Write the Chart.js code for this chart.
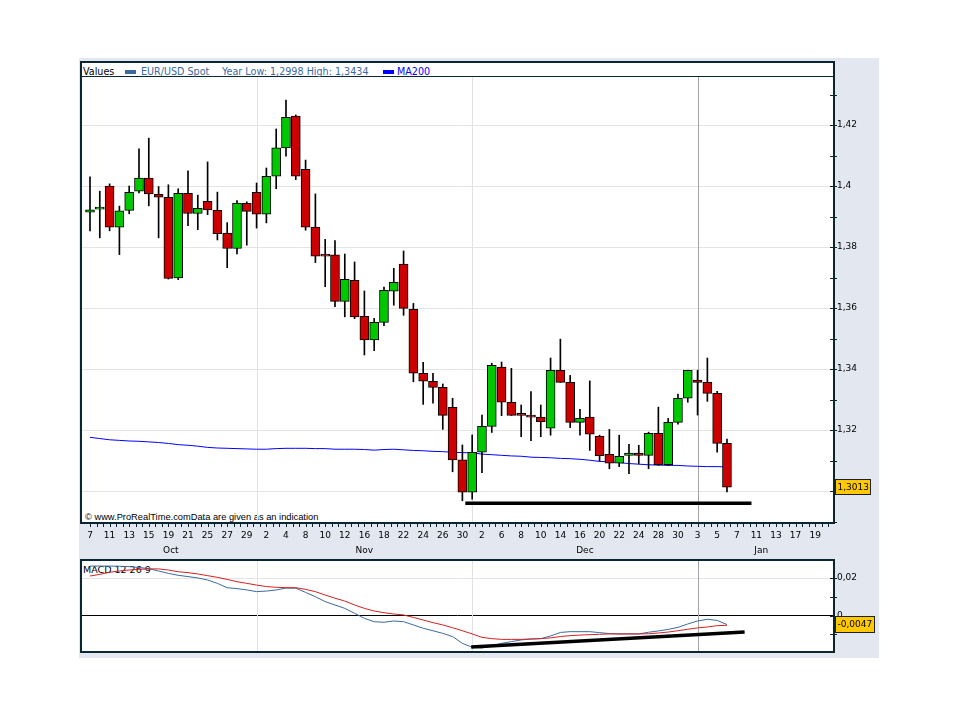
<!DOCTYPE html>
<html lang="en">

<head>
  <meta charset="UTF-8" />
  <title>EUR/USD Spot - MA200 - MACD</title>
  <script src="https://cdn.jsdelivr.net/npm/chart.js"></script>
  <style>
    body { margin: 0; background: #fff; font-family: "DejaVu Sans", sans-serif; }
    #stage { position: relative; width: 960px; height: 720px; overflow: hidden; }
    .backdrop { position: absolute; left: 79px; top: 58px; width: 800px; height: 600px; background: #e3e7ef; }
    .panel { position: absolute; background: #fff; border: 2px solid #0a2633; box-sizing: border-box; }
    .rule { position: absolute; left: 82px; top: 76px; width: 751px; height: 1px; background: #0a2633; }
    .txt { position: absolute; top: 65px; font-size: 9.6px; line-height: 13px; white-space: nowrap; color: #000; }
    .spot { color: #3a6aa0; }
    .ma { color: #0000ff; }
    .swatch { position: absolute; top: 70px; width: 11px; height: 4px; }
    .note { position: absolute; left: 85px; top: 512px; font-family: "Liberation Sans", sans-serif; font-size: 9.3px; line-height: 11px; white-space: nowrap; }
    .macdName { position: absolute; left: 83px; top: 563px; font-size: 9.5px; line-height: 13px; white-space: nowrap; }
    canvas { position: absolute; }
  </style>
</head>

<body>
  <div id="stage">
    <div class="backdrop"></div>
    <div class="panel" style="left:80px;top:61px;width:755px;height:463px"></div>
    <div class="panel" style="left:80px;top:559px;width:755px;height:94px"></div>
    <div class="rule"></div>

    <!-- legende -->
    <div class="txt" style="left:83px">Values</div>
    <div class="swatch" style="left:125px;background:#3a6aa0"></div>
    <div class="txt spot" style="left:141px">EUR/USD Spot</div>
    <div class="txt spot" style="left:222px">Year Low: 1,2998 High: 1,3434</div>
    <div class="swatch" style="left:383px;background:#0000ff"></div>
    <div class="txt ma" style="left:397px">MA200</div>

    <div class="note">© www.ProRealTime.comData are given as an indication</div>
    <div class="macdName">MACD 12 26 9</div>

    <canvas id="priceChart" width="800" height="500" style="left:79px;top:58px"></canvas>
    <canvas id="macdChart" width="800" height="100" style="left:79px;top:558px"></canvas>
  </div>

  <script>
    // axe du temps : un libelle toutes les 2 seances
    const dayLabels = ['7', '11', '13', '15', '19', '21', '25', '27', '29', '2', '4', '8', '10', '12', '16', '18', '22', '24', '26', '30',
      '2', '6', '8', '10', '14', '16', '20', '22', '24', '28', '30', '3', '5', '7', '11', '13', '17', '19'];
    const monthNames = ['Oct', 'Nov', 'Dec', 'Jan'];
    const monthBounds = [-0.5, 17, 39, 62, 75];

    // bougies EUR/USD
    const opens = [1.3914, 1.3924, 1.4000, 1.3865, 1.3920, 1.3983, 1.4026, 1.3973, 1.3963, 1.3699,
      1.3976, 1.3910, 1.3950, 1.3920, 1.3846, 1.3795, 1.3943, 1.3979, 1.3908, 1.4032,
      1.4125, 1.4229, 1.4055, 1.3865, 1.3772, 1.3774, 1.3622, 1.3691, 1.3573, 1.3495,
      1.3553, 1.3655, 1.3744, 1.3596, 1.3386, 1.3360, 1.3340, 1.3274, 1.3102, 1.2996,
      1.3127, 1.3212, 1.3406, 1.3291, 1.3249, 1.3248, 1.3242, 1.3206, 1.3396, 1.3356,
      1.3225, 1.3242, 1.3179, 1.3120, 1.3091, 1.3117, 1.3124, 1.3117, 1.3189, 1.3086,
      1.3225, 1.3304, 1.3364, 1.3356, 1.3320, 1.3156];
    const highs = [1.4030, 1.3983, 1.4007, 1.3934, 1.4000, 1.4122, 1.4157, 1.3998, 1.4004, 1.3991,
      1.4050, 1.3970, 1.4079, 1.3980, 1.3880, 1.3952, 1.3948, 1.4010, 1.4059, 1.4187,
      1.4282, 1.4233, 1.4085, 1.3974, 1.3825, 1.3821, 1.3777, 1.3751, 1.3656, 1.3566,
      1.3669, 1.3730, 1.3787, 1.3615, 1.3422, 1.3386, 1.3351, 1.3304, 1.3151, 1.3184,
      1.3249, 1.3419, 1.3423, 1.3402, 1.3282, 1.3326, 1.3282, 1.3436, 1.3498, 1.3379,
      1.3268, 1.3361, 1.3183, 1.3202, 1.3183, 1.3153, 1.3150, 1.3193, 1.3275, 1.3238,
      1.3318, 1.3396, 1.3396, 1.3436, 1.3327, 1.3170];
    const lows = [1.3853, 1.3830, 1.3853, 1.3775, 1.3909, 1.3977, 1.3935, 1.3830, 1.3695, 1.3693,
      1.3870, 1.3857, 1.3906, 1.3823, 1.3732, 1.3777, 1.3806, 1.3862, 1.3879, 1.3991,
      1.4098, 1.4021, 1.3855, 1.3749, 1.3670, 1.3604, 1.3571, 1.3565, 1.3446, 1.3460,
      1.3542, 1.3609, 1.3576, 1.3358, 1.3284, 1.3288, 1.3202, 1.3063, 1.2968, 1.2973,
      1.3060, 1.3192, 1.3247, 1.3248, 1.3178, 1.3165, 1.3178, 1.3183, 1.3356, 1.3208,
      1.3183, 1.3133, 1.3098, 1.3073, 1.3080, 1.3057, 1.3089, 1.3073, 1.3084, 1.3084,
      1.3219, 1.3291, 1.3249, 1.3294, 1.3127, 1.2997];
    const closes = [1.3922, 1.3925, 1.3865, 1.3919, 1.3979, 1.4026, 1.3974, 1.3963, 1.3697, 1.3976,
      1.3910, 1.3927, 1.3922, 1.3844, 1.3795, 1.3944, 1.3917, 1.3908, 1.4032, 1.4125,
      1.4225, 1.4032, 1.3865, 1.3770, 1.3770, 1.3622, 1.3694, 1.3571, 1.3495, 1.3553,
      1.3658, 1.3684, 1.3599, 1.3386, 1.3360, 1.3340, 1.3248, 1.3102, 1.2996, 1.3127,
      1.3212, 1.3412, 1.3291, 1.3248, 1.3248, 1.3242, 1.3227, 1.3396, 1.3356, 1.3225,
      1.3238, 1.3186, 1.3116, 1.3091, 1.3114, 1.3124, 1.3117, 1.3189, 1.3086, 1.3225,
      1.3304, 1.3396, 1.3356, 1.3320, 1.3156, 1.3013];
    const ma200 = [1.3176, 1.3172, 1.3168, 1.3166, 1.3164, 1.3163, 1.3161, 1.3159, 1.3156, 1.3152,
      1.3150, 1.3147, 1.3143, 1.3141, 1.3140, 1.3139, 1.3138, 1.3137, 1.3137, 1.3139,
      1.3140, 1.3140, 1.3140, 1.3139, 1.3139, 1.3137, 1.3137, 1.3137, 1.3136, 1.3134,
      1.3136, 1.3137, 1.3135, 1.3133, 1.3132, 1.3130, 1.3129, 1.3127, 1.3126, 1.3125,
      1.3121, 1.3119, 1.3117, 1.3115, 1.3114, 1.3111, 1.3110, 1.3109, 1.3107, 1.3106,
      1.3104, 1.3101, 1.3097, 1.3096, 1.3093, 1.3090, 1.3088, 1.3086, 1.3085, 1.3084,
      1.3084, 1.3082, 1.3081, 1.3080, 1.3080, 1.3079];

    // MACD 12 26 9
    const macdLine = [0.0264, 0.0264, 0.0264, 0.0263, 0.0261, 0.0257, 0.0250, 0.0238, 0.0225, 0.0215,
      0.0208, 0.0201, 0.0190, 0.0172, 0.0149, 0.0144, 0.0137, 0.0128, 0.0131, 0.0137,
      0.0147, 0.0146, 0.0124, 0.0101, 0.0075, 0.0057, 0.0039, 0.0013, -0.0014, -0.0032,
      -0.0035, -0.0028, -0.0032, -0.0049, -0.0067, -0.0080, -0.0094, -0.0111, -0.0147, -0.0168,
      -0.0172, -0.0161, -0.0147, -0.0138, -0.0129, -0.0124, -0.0122, -0.0108, -0.0089, -0.0085,
      -0.0085, -0.0085, -0.0090, -0.0095, -0.0097, -0.0097, -0.0097, -0.0088, -0.0081, -0.0073,
      -0.0062, -0.0044, -0.0028, -0.0019, -0.0025, -0.0047];
    const signalLine = [0.0211, 0.0220, 0.0231, 0.0238, 0.0243, 0.0247, 0.0249, 0.0249, 0.0243, 0.0234,
      0.0229, 0.0222, 0.0213, 0.0204, 0.0193, 0.0181, 0.0172, 0.0163, 0.0155, 0.0151,
      0.0149, 0.0149, 0.0140, 0.0128, 0.0110, 0.0093, 0.0078, 0.0057, 0.0039, 0.0025,
      0.0016, 0.0009, 0.0004, -0.0009, -0.0023, -0.0037, -0.0049, -0.0064, -0.0080, -0.0097,
      -0.0115, -0.0122, -0.0126, -0.0126, -0.0126, -0.0124, -0.0122, -0.0118, -0.0111, -0.0106,
      -0.0103, -0.0101, -0.0099, -0.0097, -0.0097, -0.0097, -0.0097, -0.0096, -0.0092, -0.0087,
      -0.0080, -0.0072, -0.0065, -0.0060, -0.0053, -0.0051];

    // graduations
    const priceTicks = [1.29, 1.30, 1.31, 1.32, 1.33, 1.34, 1.35, 1.36, 1.37, 1.38, 1.39, 1.40, 1.41, 1.42, 1.43];
    const priceTickLabels = ['', '1,3', '', '1,32', '', '1,34', '', '1,36', '', '1,38', '', '1,4', '', '1,42', ''];
    const macdTicks = [-0.01, 0, 0.01, 0.02];
    const macdTickLabels = ['', '0', '', '0,02'];

    // lignes tracees a la main
    const supportX = [38.3, 67.5];
    const supportY = [1.2960, 1.2960];
    const trendX = [38.9, 66.8];
    const trendY = [-0.0167, -0.0087];

    const GREEN = '#00c800';
    const RED = '#cc0000';
    const FRAME = '#0a2633';

    Chart.defaults.font.family = '"DejaVu Sans", sans-serif';
    Chart.defaults.font.size = 9;
    Chart.defaults.color = '#000';

    const pts = (xs, ys) => xs.map((x, i) => ({ x, y: ys[i] }));
    const idx = arr => arr.map((v, i) => ({ x: i, y: v }));
    const commaFmt = v => v.toFixed(4).replace('.', ',');

    function fixWidth(scale, w) {
      scale.width = w;
      scale.paddingTop = 0; scale.paddingBottom = 0; scale.paddingLeft = 0; scale.paddingRight = 0;
    }

    function drawMonthLines(chart) {
      const { ctx, chartArea: a, scales: { x } } = chart;
      ctx.save();
      ctx.lineWidth = 1;
      for (let m = 1; m < monthBounds.length - 1; m++) {
        const px = Math.round(x.getPixelForValue(monthBounds[m])) + 0.5;
        ctx.strokeStyle = monthNames[m] === 'Jan' ? '#a4a4a4' : '#e2e2e2';
        ctx.beginPath();
        ctx.moveTo(px, a.top);
        ctx.lineTo(px, a.bottom);
        ctx.stroke();
      }
      ctx.restore();
    }

    function drawYMarks(chart, values) {
      const { ctx, chartArea: a, scales: { y } } = chart;
      ctx.save();
      ctx.strokeStyle = FRAME;
      ctx.lineWidth = 1;
      values.forEach(v => {
        const py = Math.round(y.getPixelForValue(v)) + 0.5;
        ctx.beginPath();
        ctx.moveTo(a.right - 3, py);
        ctx.lineTo(a.right + 4, py);
        ctx.stroke();
      });
      ctx.restore();
    }

    function drawValueBox(chart, value, h) {
      const { ctx, chartArea: a, scales: { y } } = chart;
      const text = commaFmt(value);
      const py = y.getPixelForValue(value);
      ctx.save();
      ctx.font = '9px "DejaVu Sans"';
      const w = Math.round(ctx.measureText(text).width) + 5;
      const left = Math.round(a.right) + 2;
      const top = Math.round(py - h / 2);
      ctx.fillStyle = '#ffc800';
      ctx.fillRect(left, top, w, h);
      ctx.strokeStyle = '#202020';
      ctx.lineWidth = 1;
      ctx.strokeRect(left + 0.5, top + 0.5, w - 1, h - 1);
      ctx.fillStyle = '#000';
      ctx.textBaseline = 'middle';
      ctx.fillText(text, left + 2.5, top + h / 2 + 0.5);
      ctx.restore();
    }

    const pricePlugin = {
      id: 'priceDecor',
      beforeDatasetsDraw: chart => drawMonthLines(chart),
      afterDraw(chart) {
        const { ctx, chartArea: a, scales: { x } } = chart;
        drawYMarks(chart, priceTicks);
        // petites graduations du temps
        ctx.save();
        ctx.strokeStyle = FRAME;
        ctx.lineWidth = 1;
        for (let v = 0; v <= x.max; v += 2 / 3) {
          const px = Math.round(x.getPixelForValue(v)) + 0.5;
          ctx.beginPath();
          ctx.moveTo(px, a.bottom + 2);
          ctx.lineTo(px, a.bottom + 5);
          ctx.stroke();
        }
        // mois
        ctx.fillStyle = '#000';
        ctx.font = '9px "DejaVu Sans"';
        ctx.textAlign = 'center';
        ctx.textBaseline = 'alphabetic';
        for (let m = 0; m < monthNames.length; m++) {
          const mid = (monthBounds[m] + monthBounds[m + 1]) / 2;
          ctx.fillText(monthNames[m], x.getPixelForValue(mid), a.bottom + 31);
        }
        ctx.restore();
        drawValueBox(chart, closes[closes.length - 1], 16);
      }
    };

    const macdPlugin = {
      id: 'macdDecor',
      beforeDatasetsDraw: chart => drawMonthLines(chart),
      afterDraw(chart) {
        drawYMarks(chart, macdTicks);
        drawValueBox(chart, macdLine[macdLine.length - 1], 17);
      }
    };

    const xScale = {
      type: 'linear',
      min: -0.816,
      max: 75.82,
      offset: false,
      grid: { display: false, offset: false, drawTicks: false },
      border: { display: false }
    };

    new Chart(document.getElementById('priceChart'), {
      type: 'bar',
      data: {
        datasets: [
          {
            type: 'line',
            label: 'MA200',
            data: idx(ma200),
            borderColor: '#0000ff',
            borderWidth: 1,
            pointRadius: 0,
            order: 3
          },
          {
            label: 'wicks',
            data: lows.map((lo, i) => ({ x: i, y: [lo, highs[i]] })),
            backgroundColor: '#000',
            barThickness: 1,
            maxBarThickness: 1,
            grouped: false,
            order: 2
          },
          {
            label: 'EUR/USD Spot',
            data: opens.map((o, i) => ({ x: i, y: [o, closes[i]] })),
            backgroundColor: opens.map((o, i) => closes[i] >= o ? GREEN : RED),
            borderColor: '#000',
            borderWidth: 1,
            borderSkipped: false,
            barThickness: 9,
            maxBarThickness: 9,
            minBarLength: 2,
            grouped: false,
            order: 1
          },
          {
            type: 'line',
            label: 'support',
            data: pts(supportX, supportY),
            borderColor: '#000',
            borderWidth: 3.5,
            pointRadius: 0,
            order: 0
          }
        ]
      },
      options: {
        responsive: false,
        animation: false,
        devicePixelRatio: 1,
        layout: { padding: { left: 3, top: 19, right: 0, bottom: 0 } },
        plugins: { legend: { display: false }, tooltip: { enabled: false } },
        scales: {
          x: {
            ...xScale,
            afterBuildTicks: s => { s.ticks = dayLabels.map((_, i) => ({ value: i * 2 })); },
            afterFit: s => { s.height = 36; s.paddingLeft = 0; s.paddingRight = 0; },
            ticks: { autoSkip: false, maxRotation: 0, minRotation: 0, padding: 8, callback: v => dayLabels[v / 2] }
          },
          y: {
            type: 'linear',
            position: 'right',
            min: 1.28984,
            max: 1.43574,
            beginAtZero: false,
            border: { display: false },
            afterBuildTicks: s => { s.ticks = priceTicks.map(v => ({ value: v })); },
            afterFit: s => fixWidth(s, 46),
            grid: {
              drawTicks: false,
              color: c => priceTickLabels[c.index] ? '#e4e4e4' : 'rgba(0,0,0,0)'
            },
            ticks: { padding: 4, callback: (v, i) => priceTickLabels[i] }
          }
        }
      },
      plugins: [pricePlugin]
    });

    new Chart(document.getElementById('macdChart'), {
      type: 'line',
      data: {
        datasets: [
          { label: 'MACD', data: idx(macdLine), borderColor: '#3a6aa0', borderWidth: 1, pointRadius: 0, order: 2 },
          { label: 'Signal', data: idx(signalLine), borderColor: '#d42020', borderWidth: 1, pointRadius: 0, order: 1 },
          { label: 'trend', data: pts(trendX, trendY), borderColor: '#000', borderWidth: 3.5, pointRadius: 0, order: 0 }
        ]
      },
      options: {
        responsive: false,
        animation: false,
        devicePixelRatio: 1,
        layout: { padding: { left: 3, top: 3, right: 0, bottom: 7 } },
        plugins: { legend: { display: false }, tooltip: { enabled: false } },
        scales: {
          x: { ...xScale, display: false },
          y: {
            type: 'linear',
            position: 'right',
            min: -0.01878,
            max: 0.0291,
            border: { display: false },
            afterBuildTicks: s => { s.ticks = macdTicks.map(v => ({ value: v })); },
            afterFit: s => fixWidth(s, 46),
            grid: {
              drawTicks: false,
              color: c => {
                const v = macdTicks[c.index];
                if (v === 0) return '#000';
                return v === 0.02 ? '#e4e4e4' : 'rgba(0,0,0,0)';
              }
            },
            ticks: { padding: 4, callback: (v, i) => macdTickLabels[i] }
          }
        }
      },
      plugins: [macdPlugin]
    });
  </script>
</body>

</html>
